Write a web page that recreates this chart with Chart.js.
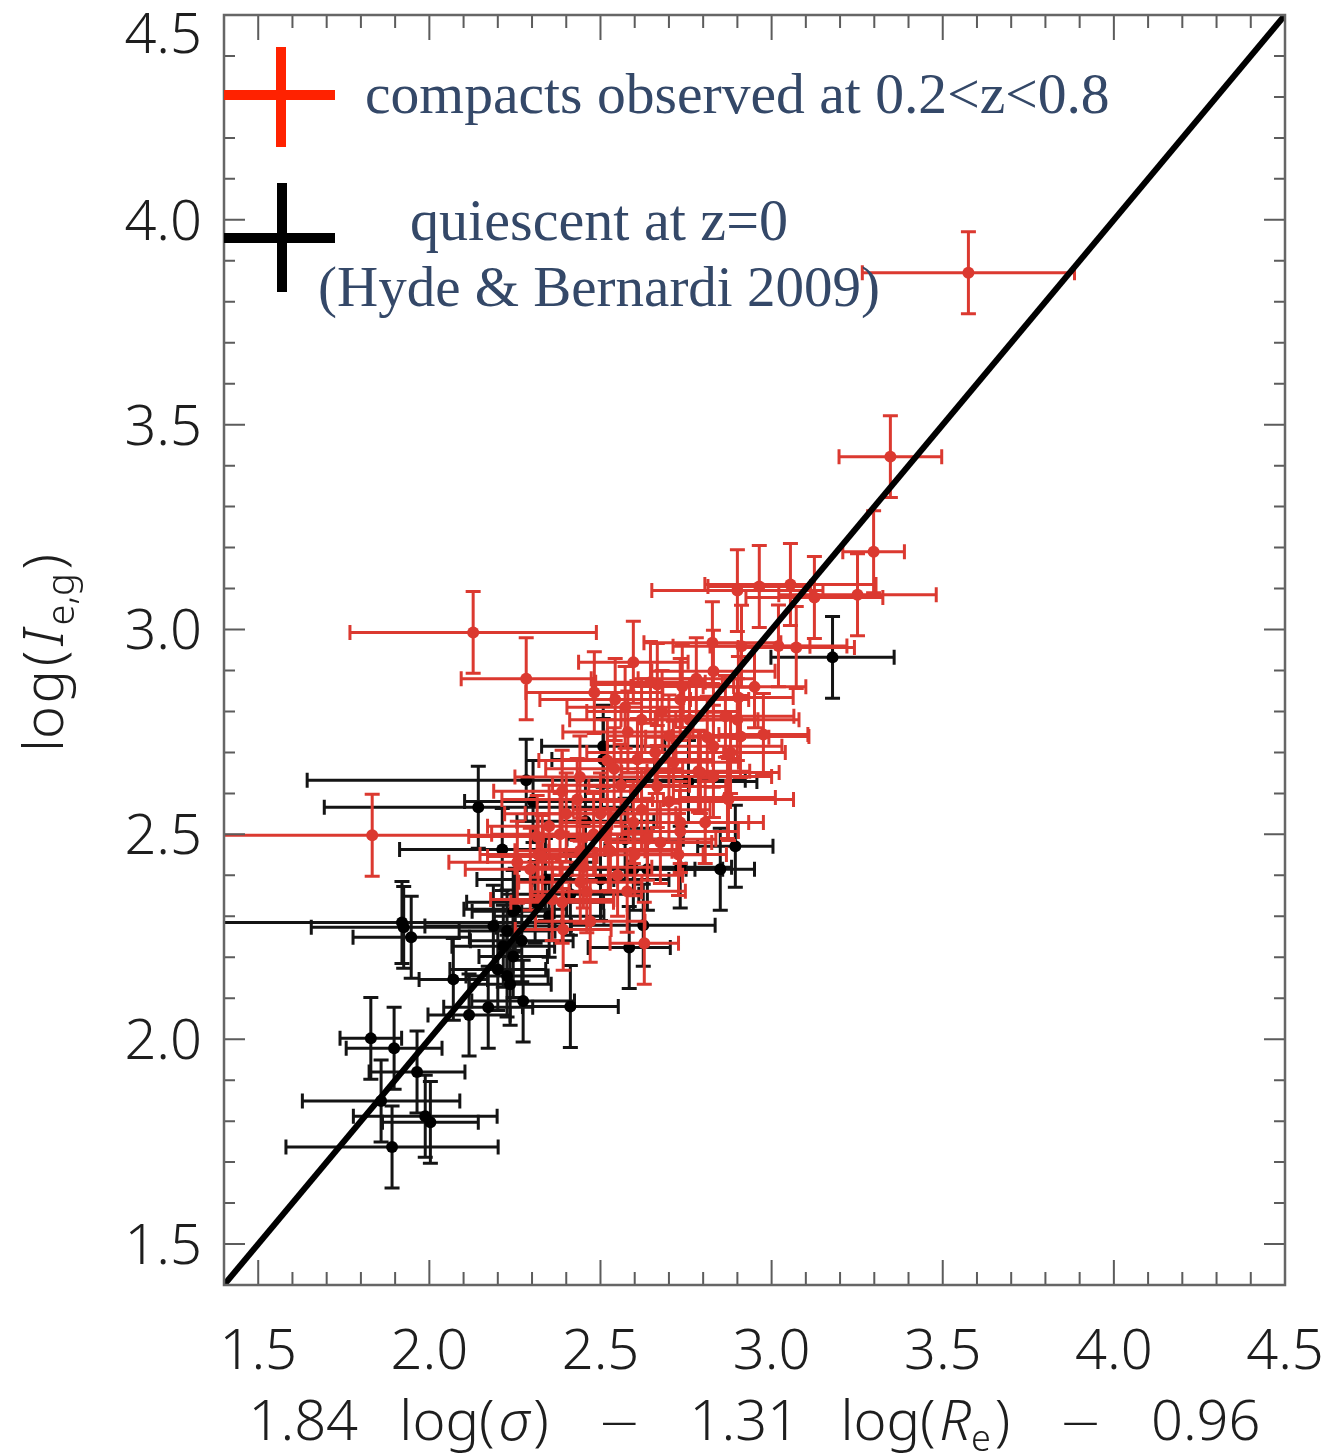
<!DOCTYPE html>
<html>
<head>
<meta charset="utf-8">
<title>Fundamental plane</title>
<script src="https://cdn.jsdelivr.net/npm/chart.js@4.4.1/dist/chart.umd.min.js"></script>
<style>
  html, body { margin: 0; padding: 0; background: #fff; }
</style>
</head>
<body>
<canvas id="fpChart" width="1334" height="1455"></canvas>
<script>
// compacts observed at 0.2<z<0.8
const compactX = [3.575, 3.347, 3.298, 3.251, 3.125, 3.055, 3.072, 2.900, 2.964, 2.128,
    2.283, 1.833, 2.596, 2.482, 2.827, 2.912, 2.830, 2.543, 2.572, 2.666,
    2.733, 2.739, 2.903, 2.900, 2.976, 2.909, 2.830, 2.608, 2.713, 2.792,
    2.830, 2.388, 2.432, 2.871, 2.733, 2.596, 2.733, 2.637, 2.529, 2.315,
    2.318, 2.382, 2.646, 2.865, 2.812, 2.786, 2.874, 2.666, 2.806, 2.330,
    2.295, 2.388, 2.578, 2.523, 2.675, 2.728, 2.359, 2.470, 2.391, 2.257,
    2.441, 2.628, 2.450, 2.550, 2.620, 2.500, 2.700, 2.560, 2.480, 2.660,
    2.760, 2.580, 2.950, 3.020, 2.520, 2.400, 2.440, 2.620, 2.700, 2.880,
    2.540, 2.440, 2.780, 2.680, 2.350, 2.460, 2.600];
const compactY = [3.871, 3.422, 3.190, 3.085, 3.078, 3.110, 2.956, 3.095, 3.105, 2.993,
    2.880, 2.498, 2.920, 2.846, 2.968, 2.959, 2.898, 2.829, 2.810, 2.866,
    2.829, 2.861, 2.834, 2.780, 2.744, 2.739, 2.715, 2.683, 2.676, 2.651,
    2.641, 2.605, 2.585, 2.590, 2.529, 2.529, 2.507, 2.488, 2.459, 2.495,
    2.451, 2.500, 2.871, 2.788, 2.737, 2.654, 2.585, 2.617, 2.529, 2.446,
    2.415, 2.334, 2.361, 2.463, 2.480, 2.451, 2.341, 2.288, 2.268, 2.432,
    2.383, 2.234, 2.420, 2.400, 2.560, 2.550, 2.580, 2.620, 2.500, 2.700,
    2.780, 2.750, 2.860, 2.960, 2.680, 2.550, 2.460, 2.780, 2.740, 2.700,
    2.660, 2.640, 2.880, 2.800, 2.520, 2.360, 2.450];
const compactXErr = [0.31, 0.15, 0.09, 0.23, 0.20, 0.25, 0.17, 0.25, 0.15, 0.36,
    0.19, 0.50, 0.16, 0.20, 0.20, 0.20, 0.18, 0.22, 0.17, 0.19,
    0.20, 0.15, 0.16, 0.18, 0.13, 0.20, 0.20, 0.22, 0.19, 0.23,
    0.17, 0.20, 0.22, 0.14, 0.20, 0.21, 0.17, 0.20, 0.18, 0.20,
    0.17, 0.20, 0.16, 0.20, 0.18, 0.15, 0.19, 0.20, 0.17, 0.16,
    0.19, 0.15, 0.17, 0.20, 0.15, 0.14, 0.18, 0.16, 0.14, 0.20,
    0.18, 0.10, 0.20, 0.19, 0.20, 0.22, 0.18, 0.20, 0.17, 0.20,
    0.20, 0.19, 0.15, 0.20, 0.20, 0.18, 0.19, 0.21, 0.18, 0.16,
    0.20, 0.19, 0.17, 0.22, 0.18, 0.16, 0.20];
const compactYErr = [0.10, 0.10, 0.10, 0.10, 0.10, 0.10, 0.10, 0.10, 0.10, 0.10,
    0.10, 0.10, 0.10, 0.10, 0.10, 0.10, 0.10, 0.10, 0.10, 0.10,
    0.10, 0.10, 0.10, 0.10, 0.10, 0.10, 0.10, 0.10, 0.10, 0.10,
    0.10, 0.10, 0.10, 0.10, 0.10, 0.10, 0.10, 0.10, 0.10, 0.10,
    0.10, 0.10, 0.10, 0.10, 0.10, 0.10, 0.10, 0.10, 0.10, 0.10,
    0.10, 0.10, 0.10, 0.10, 0.10, 0.10, 0.10, 0.10, 0.10, 0.10,
    0.10, 0.10, 0.10, 0.10, 0.10, 0.10, 0.10, 0.10, 0.10, 0.10,
    0.10, 0.10, 0.10, 0.10, 0.10, 0.10, 0.10, 0.10, 0.10, 0.10,
    0.10, 0.10, 0.10, 0.10, 0.10, 0.10, 0.10];

// quiescent at z=0 (Hyde & Bernardi 2009)
const quiescentX = [3.178, 2.143, 2.283, 2.213, 1.920, 1.925, 1.947, 1.829, 1.897, 1.964,
    1.859, 1.988, 2.003, 1.891, 2.070, 2.116, 2.172, 2.274, 2.412, 2.245,
    2.216, 2.187, 2.227, 2.236, 2.245, 2.894, 2.625, 2.584, 2.508, 2.508,
    2.757, 2.637, 2.596, 2.251, 2.309, 2.303, 2.227, 2.339, 2.412, 2.500,
    2.456, 2.572, 2.733, 2.850, 2.270, 2.200, 2.350];
const quiescentY = [2.932, 2.566, 2.632, 2.463, 2.285, 2.273, 2.249, 2.002, 1.978, 1.920,
    1.849, 1.812, 1.797, 1.737, 2.146, 2.059, 2.078, 2.093, 2.080, 2.312,
    2.227, 2.276, 2.154, 2.134, 2.202, 2.471, 2.278, 2.224, 2.715, 2.683,
    2.629, 2.415, 2.415, 2.317, 2.334, 2.580, 2.264, 2.390, 2.354, 2.390,
    2.532, 2.488, 2.420, 2.415, 2.240, 2.170, 2.300];
const quiescentXErr = [0.18, 0.45, 0.64, 0.30, 0.55, 0.27, 0.17, 0.09, 0.14, 0.14,
    0.23, 0.21, 0.14, 0.31, 0.10, 0.12, 0.13, 0.15, 0.14, 0.12,
    0.15, 0.20, 0.12, 0.12, 0.10, 0.11, 0.21, 0.12, 0.18, 0.15,
    0.20, 0.22, 0.18, 0.15, 0.20, 0.20, 0.14, 0.20, 0.20, 0.20,
    0.20, 0.17, 0.15, 0.10, 0.15, 0.14, 0.16];
const quiescentYErr = [0.10, 0.10, 0.10, 0.10, 0.10, 0.10, 0.10, 0.10, 0.10, 0.10,
    0.10, 0.10, 0.10, 0.10, 0.10, 0.10, 0.10, 0.10, 0.10, 0.10,
    0.10, 0.10, 0.10, 0.10, 0.10, 0.10, 0.10, 0.10, 0.10, 0.10,
    0.10, 0.10, 0.10, 0.10, 0.10, 0.10, 0.10, 0.10, 0.10, 0.10,
    0.10, 0.10, 0.10, 0.10, 0.10, 0.10, 0.10];

// one-to-one relation and axis ticks
const oneToOne = [1.4, 4.5];
const axisMin = 1.4;
const axisMax = 4.5;
const tickValues = [1.5, 2.0, 2.5, 3.0, 3.5, 4.0, 4.5];
const minorStep = 0.1;

const RED = 'rgb(219, 57, 48)';
const BLACK = '#141414';
const LEGEND_TEXT = 'rgb(52, 72, 104)';
const LABEL = '#1e1e1e';
const SANS = '"Noto Sans", "DejaVu Sans", sans-serif';
const SERIF = '"Liberation Serif", "DejaVu Serif", serif';

function toPoints(xs, ys) {
    return xs.map((x, i) => ({ x: x, y: ys[i] }));
}

// error bars with caps, drawn right before each dataset's own markers
const errorBars = {
    id: 'errorBars',
    beforeDatasetDraw(chart, args) {
        const ds = chart.data.datasets[args.index];
        if (!ds.xErr) return;
        const { ctx, chartArea } = chart;
        const xs = chart.scales.x;
        const ys = chart.scales.y;
        const cap = 7.5;
        ctx.save();
        ctx.beginPath();
        ctx.rect(chartArea.left, chartArea.top, chartArea.right - chartArea.left, chartArea.bottom - chartArea.top);
        ctx.clip();
        ctx.strokeStyle = ds.barColor;
        ctx.lineWidth = 3;
        ds.data.forEach((p, i) => {
            const px = xs.getPixelForValue(p.x);
            const py = ys.getPixelForValue(p.y);
            const x0 = xs.getPixelForValue(p.x - ds.xErr[i]);
            const x1 = xs.getPixelForValue(p.x + ds.xErr[i]);
            const y0 = ys.getPixelForValue(p.y - ds.yErr[i]);
            const y1 = ys.getPixelForValue(p.y + ds.yErr[i]);
            ctx.beginPath();
            ctx.moveTo(x0, py); ctx.lineTo(x1, py);
            ctx.moveTo(x0, py - cap); ctx.lineTo(x0, py + cap);
            ctx.moveTo(x1, py - cap); ctx.lineTo(x1, py + cap);
            ctx.moveTo(px, y0); ctx.lineTo(px, y1);
            ctx.moveTo(px - cap, y0); ctx.lineTo(px + cap, y0);
            ctx.moveTo(px - cap, y1); ctx.lineTo(px + cap, y1);
            ctx.stroke();
        });
        ctx.restore();
    }
};

// draws runs of text (italics, subscripts, gaps) centred on x;
// the gaps stretch so the whole run spans `width`
function drawRich(ctx, segs, x, y, width) {
    let textW = 0;
    let gaps = 0;
    segs.forEach(s => {
        if (s.gap) { gaps += s.gap; return; }
        ctx.font = s.font;
        s.w = ctx.measureText(s.text).width;
        textW += s.w;
    });
    const k = gaps > 0 ? Math.max(0, (width - textW) / gaps) : 0;
    const total = textW + gaps * k;
    let cx = x - total / 2;
    segs.forEach(s => {
        if (s.gap) { cx += s.gap * k; return; }
        ctx.font = s.font;
        ctx.fillText(s.text, cx, y + (s.dy || 0));
        cx += s.w;
    });
}

// box frame, inward ticks on all four sides, legend and axis titles
const frameAndLabels = {
    id: 'frameAndLabels',
    afterDraw(chart) {
        const { ctx, chartArea } = chart;
        const { left, right, top, bottom } = chartArea;
        const xs = chart.scales.x;
        const ys = chart.scales.y;

        ctx.save();
        ctx.strokeStyle = '#5c5c5c';
        ctx.lineWidth = 2;
        for (let v = axisMin; v <= axisMax + 1e-6; v += minorStep) {
            const major = Math.abs(v * 2 - Math.round(v * 2)) < 1e-6;
            const px = xs.getPixelForValue(v);
            const py = ys.getPixelForValue(v);
            const lx = major ? 25 : 13;
            const ly = major ? 21 : 11;
            ctx.beginPath();
            ctx.moveTo(px, bottom); ctx.lineTo(px, bottom - lx);
            ctx.moveTo(px, top); ctx.lineTo(px, top + lx);
            ctx.moveTo(left, py); ctx.lineTo(left + ly, py);
            ctx.moveTo(right, py); ctx.lineTo(right - ly, py);
            ctx.stroke();
        }
        ctx.lineWidth = 2.5;
        ctx.strokeStyle = '#666';
        ctx.strokeRect(left, top, right - left, bottom - top);

        // top y label sits inside the canvas, below its tick
        ctx.fillStyle = LABEL;
        ctx.font = '300 56px ' + SANS;
        ctx.textAlign = 'right';
        ctx.textBaseline = 'middle';
        ctx.fillText(tickValues[tickValues.length - 1].toFixed(1), left - 22, ys.getPixelForValue(axisMax) + 22);

        // legend crosses
        ctx.lineWidth = 10;
        ctx.strokeStyle = '#ff2200';
        ctx.beginPath();
        ctx.moveTo(281, 47); ctx.lineTo(281, 147);
        ctx.moveTo(left, 95); ctx.lineTo(335, 95);
        ctx.stroke();
        ctx.strokeStyle = '#000';
        ctx.beginPath();
        ctx.moveTo(282, 183); ctx.lineTo(282, 292);
        ctx.moveTo(left, 238); ctx.lineTo(335, 238);
        ctx.stroke();

        // legend text
        ctx.fillStyle = LEGEND_TEXT;
        ctx.textBaseline = 'alphabetic';
        ctx.textAlign = 'left';
        const legendLines = [
            { text: 'compacts observed at 0.2<z<0.8', x0: 365, x1: 1110, y: 113 },
            { text: 'quiescent at z=0', x0: 410, x1: 788, y: 240 },
            { text: '(Hyde & Bernardi 2009)', x0: 318, x1: 880, y: 306 }
        ];
        legendLines.forEach(l => {
            ctx.font = '50px ' + SERIF;
            const w = ctx.measureText(l.text).width;
            const size = 50 * (l.x1 - l.x0) / w;
            ctx.font = size.toFixed(1) + 'px ' + SERIF;
            ctx.fillText(l.text, l.x0, l.y);
        });

        // x axis title
        ctx.fillStyle = LABEL;
        const big = '300 56px ' + SANS;
        const ital = 'italic 300 56px ' + SANS;
        const sub = '300 36px ' + SANS;
        const minus = '300 52px "DejaVu Sans", sans-serif';
        drawRich(ctx, [
            { text: '1.84', font: big }, { gap: 34 },
            { text: 'log(', font: big }, { gap: 3 },
            { text: 'σ', font: ital }, { gap: 3 },
            { text: ')', font: big }, { gap: 40 },
            { text: '\u2212', font: minus }, { gap: 40 },
            { text: '1.31', font: big }, { gap: 34 },
            { text: 'log(', font: big }, { gap: 3 },
            { text: 'R', font: ital },
            { text: 'e', font: sub, dy: 11 }, { gap: 3 },
            { text: ')', font: big }, { gap: 40 },
            { text: '\u2212', font: minus }, { gap: 40 },
            { text: '0.96', font: big }
        ], (left + right) / 2, 1440, 1012);

        // y axis title
        ctx.save();
        ctx.translate(63, 653);
        ctx.rotate(-Math.PI / 2);
        drawRich(ctx, [
            { text: 'lo', font: big }, { gap: 2 },
            { text: 'g', font: big }, { gap: 3 },
            { text: '(', font: big }, { gap: 4 },
            { text: 'I', font: ital }, { gap: 3 },
            { text: 'e,g', font: '300 38px ' + SANS, dy: 11 }, { gap: 3 },
            { text: ')', font: big }
        ], 0, 0, 198);
        ctx.restore();
        ctx.restore();
    }
};

const tickFont = { family: SANS, size: 56, weight: 300 };

new Chart(document.getElementById('fpChart').getContext('2d'), {
    type: 'scatter',
    data: {
        datasets: [
            {
                label: 'one-to-one',
                data: toPoints(oneToOne, oneToOne),
                showLine: true,
                borderColor: '#000',
                borderWidth: 6,
                pointRadius: 0
            },
            {
                label: 'compacts observed at 0.2<z<0.8',
                data: toPoints(compactX, compactY),
                xErr: compactXErr,
                yErr: compactYErr,
                barColor: RED,
                backgroundColor: RED,
                borderWidth: 0,
                pointRadius: 6
            },
            {
                label: 'quiescent at z=0',
                data: toPoints(quiescentX, quiescentY),
                xErr: quiescentXErr,
                yErr: quiescentYErr,
                barColor: BLACK,
                backgroundColor: '#000',
                borderWidth: 0,
                pointRadius: 6
            }
        ]
    },
    options: {
        responsive: false,
        animation: false,
        devicePixelRatio: 1,
        layout: { padding: { top: 15, right: 49, left: 0, bottom: 0 } },
        plugins: {
            legend: { display: false },
            tooltip: { enabled: false }
        },
        scales: {
            x: {
                type: 'linear',
                min: axisMin,
                max: axisMax,
                afterBuildTicks: s => { s.ticks = tickValues.map(v => ({ value: v })); },
                afterFit: s => { s.height = 170; s.paddingLeft = 0; s.paddingRight = 0; },
                grid: { display: false, drawTicks: false },
                border: { display: false },
                ticks: {
                    font: tickFont,
                    color: LABEL,
                    padding: 34,
                    maxRotation: 0,
                    autoSkip: false,
                    callback: v => v.toFixed(1)
                }
            },
            y: {
                type: 'linear',
                min: axisMin,
                max: axisMax,
                afterBuildTicks: s => { s.ticks = tickValues.map(v => ({ value: v })); },
                afterFit: s => { s.width = 224; s.paddingTop = 0; s.paddingBottom = 0; },
                grid: { display: false, drawTicks: false },
                border: { display: false },
                ticks: {
                    font: tickFont,
                    color: LABEL,
                    padding: 22,
                    labelOffset: 4,
                    autoSkip: false,
                    // the top label is drawn separately, shifted below its tick
                    callback: v => (v === axisMax ? '' : v.toFixed(1))
                }
            }
        }
    },
    plugins: [errorBars, frameAndLabels]
});
</script>
</body>
</html>
